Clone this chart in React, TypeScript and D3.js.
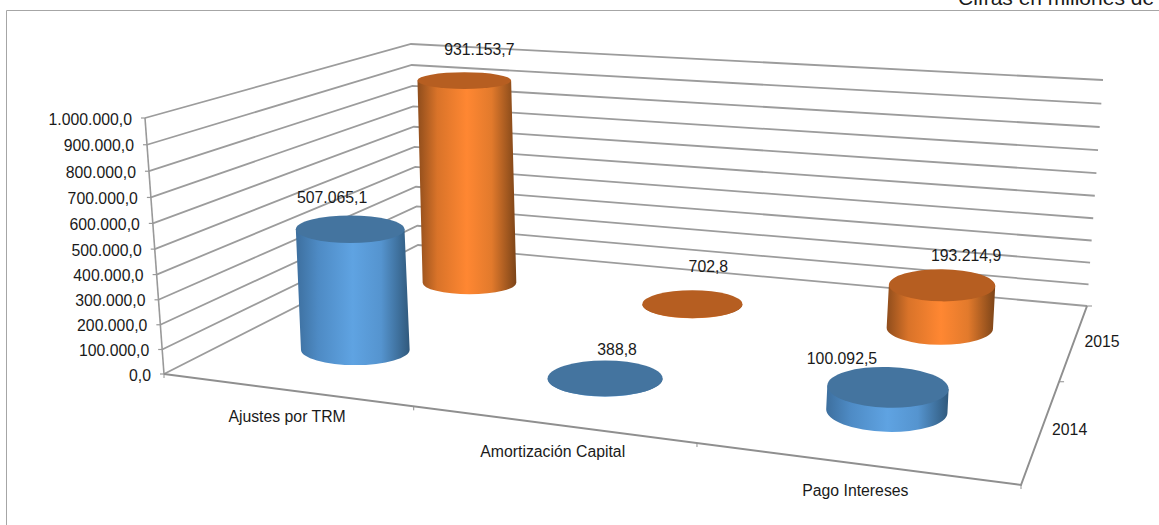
import * as d3 from "d3";

const categories = ["Ajustes por TRM", "Amortización Capital", "Pago Intereses"];
const years = ["2014", "2015"];
const values2014 = [507065.1, 388.8, 100092.5];
const values2015 = [931153.7, 702.8, 193214.9];
const valueTicks = [0, 100000, 200000, 300000, 400000, 500000, 600000, 700000, 800000, 900000, 1000000];

const WIDTH = 1159;
const HEIGHT = 525;
const FONT = "'Liberation Sans', Arial, sans-serif";
const LABEL_SIZE = 15.8;

// floor corners of the 3D box
const FL: [number, number] = [164, 374];
const FR: [number, number] = [1021, 485];
const BR: [number, number] = [1087, 306];
const BL: [number, number] = [418, 245];

// wall height and lean at each floor corner, [dx, height]
const LIFT = { fl: [-19, 256], fr: [18, 258], bl: [-7, 201], br: [16, 226] };

const locale = d3.formatLocale({
  decimal: ",",
  thousands: ".",
  grouping: [3],
  currency: ["$", ""],
});
const fmt = locale.format(",.1f");

const uScale = d3.scaleBand<string>().domain(categories).range([0, 1]);
const vScale = d3.scaleBand<string>().domain(years).range([0, 1]);
const wScale = d3.scaleLinear().domain([0, 1000000]).range([0, 1]);

// unit square -> floor quad (plain homography, the chart is in perspective)
function makeFloor() {
  const [x0, y0] = FL;
  const [x1, y1] = FR;
  const [x2, y2] = BR;
  const [x3, y3] = BL;
  const sx = x0 - x1 + x2 - x3;
  const sy = y0 - y1 + y2 - y3;
  const dx1 = x1 - x2;
  const dx2 = x3 - x2;
  const dy1 = y1 - y2;
  const dy2 = y3 - y2;
  const det = dx1 * dy2 - dx2 * dy1;
  const g = (sx * dy2 - dx2 * sy) / det;
  const h = (dx1 * sy - sx * dy1) / det;
  return (u: number, v: number): [number, number] => {
    const d = 1 + g * u + h * v;
    return [
      (x0 + (x1 - x0 + g * x1) * u + (x3 - x0 + h * x3) * v) / d,
      (y0 + (y1 - y0 + g * y1) * u + (y3 - y0 + h * y3) * v) / d,
    ];
  };
}
const floor = makeFloor();

function project(u: number, v: number, w = 0): [number, number] {
  const [x, y] = floor(u, v);
  const mix = (i: number) =>
    (1 - v) * ((1 - u) * LIFT.fl[i] + u * LIFT.fr[i]) + v * ((1 - u) * LIFT.bl[i] + u * LIFT.br[i]);
  // ticks spread out a little towards the top of the wall
  const wp = w / (1 + 0.05 * (1 - w));
  return [x + mix(0) * wp, y - mix(1) * wp];
}

const line = d3.line();

interface CylProps {
  u: number;
  v: number;
  w: number;
  gradient: string;
  top: string;
}

function Cylinder({ u, v, w, gradient, top }: CylProps) {
  const nudge = 1.5 * (1 - u);
  const [bx, by0] = project(u, v, 0);
  const [hx, hy0] = project(u, v, w);
  const by = by0 + nudge;
  const hy = hy0 + nudge;
  const rx = 57.5 - 15 * (v - 0.25) + 9.5 * (u - 0.5);
  const ry = 18 - 8 * (v - 0.25) + 8 * (u - 0.5);
  const ryTop = ry - 3.2 * w;
  const tilt = Math.max(0, 7 * (u - 0.5) * (1 - v));
  const c = Math.cos((tilt * Math.PI) / 180);
  const s = Math.sin((tilt * Math.PI) / 180);
  const body =
    `M${bx - rx * c},${by - rx * s}` +
    `L${hx - rx * c},${hy - rx * s}` +
    `L${hx + rx * c},${hy + rx * s}` +
    `L${bx + rx * c},${by + rx * s}` +
    `A${rx},${ry} ${tilt} 0 1 ${bx - rx * c},${by - rx * s}Z`;
  return (
    <g>
      <path d={body} fill={`url(#${gradient})`} />
      <ellipse cx={hx} cy={hy} rx={rx} ry={ryTop} fill={top} transform={`rotate(${tilt} ${hx} ${hy})`} />
    </g>
  );
}

// offset of each value label from the top of its cylinder
const labelOffsets2014 = [[-18, -30], [12, -28], [-46, -29]];
const labelOffsets2015 = [[15, -30], [16, -37], [24, -30]];

function SideGradient({ id, stops }: { id: string; stops: string[] }) {
  return (
    <linearGradient id={id} x1="0" x2="1" y1="0" y2="0">
      {stops.map((c, i) => (
        <stop key={i} offset={[0, 0.2, 0.5, 0.75, 1][i]} stopColor={c} />
      ))}
    </linearGradient>
  );
}

export default function App() {
  const series = [
    { year: "2015", values: values2015, gradient: "sideOrange", top: "#b65e21", offsets: labelOffsets2015 },
    { year: "2014", values: values2014, gradient: "sideBlue", top: "#44749f", offsets: labelOffsets2014 },
  ];

  return (
    <svg
      width={WIDTH}
      height={HEIGHT}
      viewBox={`0 0 ${WIDTH} ${HEIGHT}`}
      style={{ position: "fixed", left: 0, top: 0, background: "#fff" }}
      fontFamily={FONT}
    >
      <defs>
        <SideGradient id="sideBlue" stops={["#3d6f9e", "#4e8bc5", "#5fa3e2", "#5594cf", "#30597c"]} />
        <SideGradient id="sideOrange" stops={["#8f4d1c", "#d97329", "#ff8732", "#e27a2c", "#7c4418"]} />
      </defs>

      <text x={958} y={5} fontSize={21} fill="#1a1a1a">
        Cifras en millones de
      </text>
      <path d={`M6.5,${HEIGHT}V10.5H${WIDTH}`} fill="none" stroke="#a6a6a6" strokeWidth={1} />

      {/* walls */}
      {valueTicks.map((t) => {
        const w = wScale(t);
        return (
          <path
            key={t}
            d={line([project(0, 0, w), project(0, 1, w), project(1, 1, w)]) ?? ""}
            fill="none"
            stroke="#9c9c9c"
            strokeWidth={1.8}
          />
        );
      })}

      {/* value axis */}
      <path d={line([project(0, 0, 0), project(0, 0, 1)]) ?? ""} fill="none" stroke="#999" strokeWidth={1.6} />
      {valueTicks.map((t) => {
        const [x, y] = project(0, 0, wScale(t));
        return (
          <g key={t}>
            <line x1={x - 4} x2={x} y1={y} y2={y} stroke="#999" strokeWidth={1.2} />
            <text x={x - 13} y={y + 1} textAnchor="end" dominantBaseline="central" fontSize={LABEL_SIZE} fill="#1a1a1a">
              {fmt(t)}
            </text>
          </g>
        );
      })}

      {/* floor axes */}
      <path d={line([project(0, 0), project(1, 0), project(1, 1)]) ?? ""} fill="none" stroke="#8f8f8f" strokeWidth={2} />
      {[0, 1 / 3, 2 / 3, 1].map((u) => {
        const [x, y] = project(u, 0);
        return <line key={u} x1={x} x2={x} y1={y} y2={y + 4} stroke="#8f8f8f" strokeWidth={1} />;
      })}
      {[0.5, 1].map((v) => {
        const [x, y] = project(1, v);
        return <line key={v} x1={x} x2={x + 5} y1={y} y2={y} stroke="#8f8f8f" strokeWidth={1} />;
      })}

      {categories.map((c) => {
        const [x, y] = project((uScale(c) ?? 0) + uScale.bandwidth() / 2, 0);
        return (
          <text key={c} x={x + 2} y={y + 27} textAnchor="middle" dominantBaseline="central" fontSize={LABEL_SIZE} fill="#1a1a1a">
            {c}
          </text>
        );
      })}
      {years.map((yr) => {
        const [x, y] = project(1, (vScale(yr) ?? 0) + vScale.bandwidth() / 2);
        return (
          <text key={yr} x={x + 28} y={y} textAnchor="middle" dominantBaseline="central" fontSize={LABEL_SIZE} fill="#1a1a1a">
            {yr}
          </text>
        );
      })}

      {/* cylinders, back row first */}
      {series.map((s) =>
        s.values.map((val, i) => (
          <Cylinder
            key={`${s.year}-${i}`}
            u={(uScale(categories[i]) ?? 0) + uScale.bandwidth() / 2}
            v={(vScale(s.year) ?? 0) + vScale.bandwidth() / 2}
            w={wScale(val)}
            gradient={s.gradient}
            top={s.top}
          />
        ))
      )}

      {/* value labels */}
      {series.map((s) =>
        s.values.map((val, i) => {
          const [x, y] = project(
            (uScale(categories[i]) ?? 0) + uScale.bandwidth() / 2,
            (vScale(s.year) ?? 0) + vScale.bandwidth() / 2,
            wScale(val)
          );
          return (
            <text
              key={`${s.year}-label-${i}`}
              x={x + s.offsets[i][0]}
              y={y + s.offsets[i][1]}
              textAnchor="middle"
              dominantBaseline="central"
              fontSize={LABEL_SIZE}
              fill="#1a1a1a"
            >
              {fmt(val)}
            </text>
          );
        })
      )}
    </svg>
  );
}
